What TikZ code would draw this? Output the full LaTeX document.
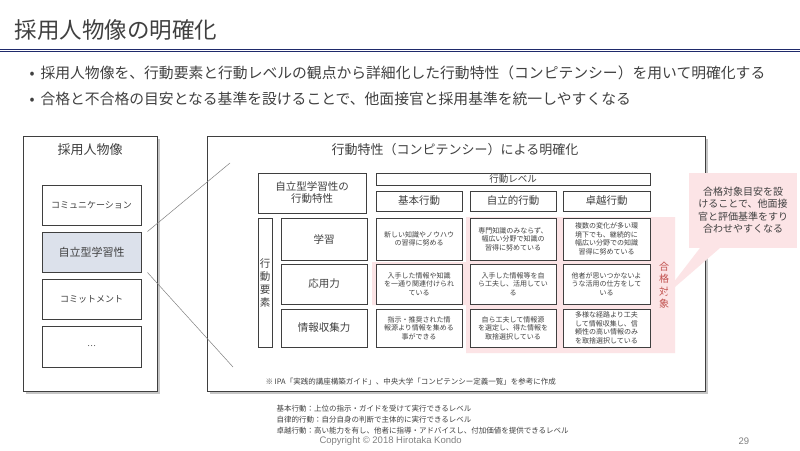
\documentclass[tikz,border=0pt]{standalone}
\usepackage{fontspec}
\setmainfont{Noto Sans CJK JP}
\newfontfamily\lat{Liberation Sans}
\definecolor{txt}{HTML}{404040}
\definecolor{bord}{HTML}{3F3F3F}
\definecolor{pinkbg}{HTML}{FCE4E6}
\definecolor{navy}{HTML}{1F2A6B}
\definecolor{selfill}{HTML}{DCE1EB}
\definecolor{redtxt}{HTML}{C0504D}
\begin{document}
\begin{tikzpicture}[x=1pt,y=-1pt,
  panel/.style={draw=bord,line width=0.8pt,fill=white},
  cellbox/.style={draw=bord,line width=0.9pt,fill=white,align=center,inner sep=1pt,text=txt},
  hdr/.style={cellbox,font=\fontsize{10.5}{12}\selectfont},
  small/.style={cellbox,font=\fontsize{7}{8.6}\selectfont},
  every node/.style={text=txt}]
\useasboundingbox (0,0) rectangle (800,450);
% title
\node[anchor=west,font=\fontsize{22.5}{25}\selectfont] (title) at (11,30) {採用人物像の明確化};
\fill[navy] (0,48.5) rectangle (800,52);
\draw[white,line width=0.6pt] (0,50) -- (800,50);
% bullets
\node[anchor=west,font=\fontsize{14.8}{17}\selectfont] (b1) at (26,73) {•\hspace{6pt}採用人物像を、行動要素と行動レベルの観点から詳細化した行動特性（コンピテンシー）を用いて明確化する};
\node[anchor=west,font=\fontsize{14.8}{17}\selectfont] (b2) at (26,99) {•\hspace{6pt}合格と不合格の目安となる基準を設けることで、他面接官と採用基準を統一しやすくなる};
% left panel
\fill[gray!45] (26,139) rectangle (160,394);
\draw[panel] (23,136) rectangle (157,391);
\node[font=\fontsize{13}{15}\selectfont] (lt) at (90,150) {採用人物像};
\node[cellbox,minimum width=99pt,minimum height=40pt,font=\fontsize{9}{10}\selectfont] (c1) at (91.5,205) {コミュニケーション};
\node[cellbox,fill=selfill,minimum width=99pt,minimum height=40pt,font=\fontsize{11}{12}\selectfont] (c2) at (91.5,252) {自立型学習性};
\node[cellbox,minimum width=99pt,minimum height=40pt,font=\fontsize{9}{10}\selectfont] (c3) at (91.5,299) {コミットメント};
\node[cellbox,minimum width=99pt,minimum height=41pt,font=\fontsize{8}{10}\selectfont] (c4) at (91.5,346.5) {…};
% right panel
\fill[gray!45] (210,139) rectangle (708,394);
\draw[panel] (207,136) rectangle (705,391);
\coordinate (z1) at (230,163);
\coordinate (z2) at (233,367);
\draw[gray,line width=0.5pt] (c2.north east)++(6,0) -- (z1);
\draw[gray,line width=0.5pt] (c2.south east)++(6,0) -- (z2);
\node[font=\fontsize{13}{15}\selectfont] (rt) at (455,150) {行動特性（コンピテンシー）による明確化};
% pink region
\fill[pinkbg] (372,262) -- (466,262) -- (466,217) -- (675,217) -- (675,353) -- (466,353) -- (466,305) -- (372,305) -- cycle;
\node[text=redtxt,font=\fontsize{10}{12.5}\selectfont,align=center] (gk) at (664,285) {合\\格\\対\\象};
% callout
\fill[pinkbg] (689,173) rectangle (797,248);
\fill[pinkbg] (700,248) -- (720,248) -- (660,300) -- cycle;
\node[text=txt,font=\fontsize{10}{12.5}\selectfont,align=center] (co) at (743,210) {合格対象目安を設\\けることで、他面接\\官と評価基準をすり\\合わせやすくなる};
% table
\node[hdr,minimum width=108pt,minimum height=40pt] (corner) at (312,193) {自立型学習性の\\行動特性};
\node[cellbox,font=\fontsize{9.5}{10}\selectfont,minimum width=274pt,minimum height=12pt] (lv) at (513,179) {行動レベル};
\node[hdr,minimum width=86pt,minimum height=20pt] (h1) at (419,201) {基本行動};
\node[hdr,minimum width=86pt,minimum height=20pt] (h2) at (513,201) {自立的行動};
\node[hdr,minimum width=87pt,minimum height=20pt] (h3) at (606.5,201) {卓越行動};
\node[cellbox,font=\fontsize{10.5}{13}\selectfont,minimum width=14pt,minimum height=129pt] (ky) at (265,282.5) {行\\動\\要\\素};
\node[hdr,minimum width=86pt,minimum height=42pt] (r1) at (324,239) {学習};
\node[hdr,minimum width=86pt,minimum height=40pt] (r2) at (324,284) {応用力};
\node[hdr,minimum width=86pt,minimum height=38pt] (r3) at (324,328) {情報収集力};
\node[small,minimum width=86pt,minimum height=42pt] (a1) at (419,239) {新しい知識やノウハウ\\の習得に努める};
\node[small,minimum width=86pt,minimum height=42pt] (a2) at (513,239) {専門知識のみならず、\\幅広い分野で知識の\\習得に努めている};
\node[small,minimum width=87pt,minimum height=42pt] (a3) at (606.5,239) {複数の変化が多い環\\境下でも、継続的に\\幅広い分野での知識\\習得に努めている};
\node[small,minimum width=86pt,minimum height=40pt] (b1c) at (419,284) {入手した情報や知識\\を一通り関連付けられ\\ている};
\node[small,minimum width=86pt,minimum height=40pt] (b2c) at (513,284) {入手した情報等を自\\ら工夫し、活用してい\\る};
\node[small,minimum width=87pt,minimum height=40pt] (b3c) at (606.5,284) {他者が思いつかないよ\\うな活用の仕方をして\\いる};
\node[small,minimum width=86pt,minimum height=38pt] (d1) at (419,328) {指示・推奨された情\\報源より情報を集める\\事ができる};
\node[small,minimum width=86pt,minimum height=38pt] (d2) at (513,328) {自ら工夫して情報源\\を選定し、得た情報を\\取捨選択している};
\node[small,minimum width=87pt,minimum height=38pt] (d3) at (606.5,328) {多様な経路より工夫\\して情報収集し、信\\頼性の高い情報のみ\\を取捨選択している};
\node[anchor=west,font=\fontsize{7.5}{9}\selectfont] (ref) at (262,382) {※ IPA「実践的講座構築ガイド」、中央大学「コンピテンシー定義一覧」を参考に作成};
% notes
\node[anchor=north west,align=left,font=\fontsize{7.5}{11}\selectfont] (notes) at (273,402) {基本行動：上位の指示・ガイドを受けて実行できるレベル\\自律的行動：自分自身の判断で主体的に実行できるレベル\\卓越行動：高い能力を有し、他者に指導・アドバイスし、付加価値を提供できるレベル};
\node[anchor=west,text=gray,font=\lat\fontsize{9.5}{11}\selectfont] (cp) at (316,441) {Copyright © 2018 Hirotaka Kondo};
\node[anchor=west,text=gray,font=\lat\fontsize{9.5}{11}\selectfont] (pg) at (735,441) {29};
\end{tikzpicture}
\end{document}
